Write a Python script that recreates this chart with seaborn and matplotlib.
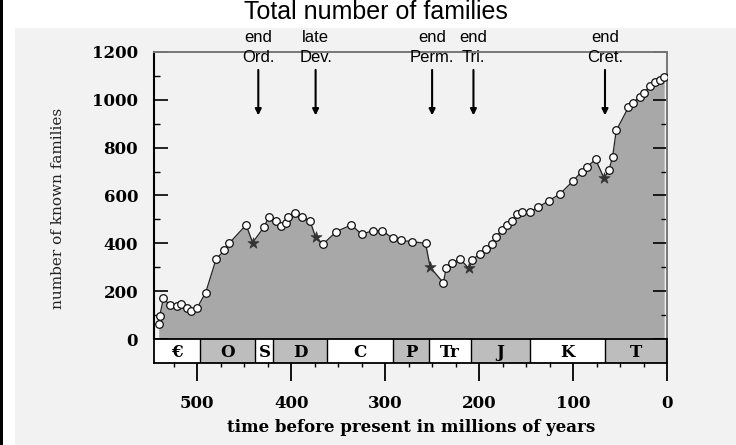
import matplotlib
matplotlib.use("Agg")
import matplotlib.pyplot as plt
import seaborn as sns
import pandas as pd
from matplotlib.patches import Rectangle
from matplotlib.ticker import MultipleLocator

# ---- data ----
ma = [541, 540, 536, 529, 522, 517, 511, 507, 500, 491, 480, 471, 466, 448,
      441, 429, 424, 416, 411, 406, 403, 396, 388, 380, 374, 366, 352, 336,
      325, 313, 303, 292, 283, 271, 257, 252, 238, 235, 229, 220, 211, 208,
      199, 193, 186, 182, 176, 170, 165, 160, 154, 146, 137, 126, 114, 100,
      91, 85, 76, 67, 62, 58, 54, 41, 36, 29, 25, 18, 13, 7, 3]
families = [63, 95, 170, 142, 138, 146, 131, 117, 131, 194, 333, 372, 400, 477,
            403, 468, 509, 493, 474, 486, 511, 525, 510, 494, 426, 397, 449, 477,
            438, 453, 453, 421, 412, 407, 400, 300, 235, 298, 319, 333, 296, 329,
            356, 375, 397, 425, 456, 477, 495, 523, 532, 532, 551, 578, 606, 661,
            699, 720, 751, 672, 705, 759, 872, 969, 988, 1013, 1027, 1058, 1076, 1083, 1095]
extinction_ma = [441, 374, 252, 211, 67]

period_labels = ["€", "O", "S", "D", "C", "P", "Tr", "J", "K", "T"]
period_bounds = [546, 497, 438, 419, 362, 292, 253, 209, 146, 66, 0]
period_shaded = [False, True, False, True, False, True, False, True, False, True]

event_top = ["end", "late", "end", "end", "end"]
event_bottom = ["Ord.", "Dev.", "Perm.", "Tri.", "Cret."]
event_ma = [435, 374, 250, 206, 66]

df = pd.DataFrame({"ma": ma, "families": families})
df["star"] = df["ma"].isin(extinction_ma)

# ---- figure ----
W, H = 736, 445
fig = plt.figure(figsize=(W / 100, H / 100), dpi=100)
fig.patch.set_facecolor("white")

def fx(px):
    return px / W

def fy(py):
    return 1 - py / H

# scanned background and left rule
fig.patches.append(Rectangle((fx(15), 0), 1 - fx(15), fy(28), transform=fig.transFigure,
                             facecolor="#f2f2f2", edgecolor="none", zorder=-10))
fig.patches.append(Rectangle((0, 0), fx(3), 1, transform=fig.transFigure,
                             facecolor="black", edgecolor="none", zorder=-10))

serif = ["DejaVu Serif"]
sans = ["Liberation Sans", "DejaVu Sans"]

L, R, T, B = 154, 667, 52, 339
ax = fig.add_axes([fx(L), fy(B), fx(R) - fx(L), fy(T) - fy(B)])
ax.set_facecolor("#f2f2f2")

ax.fill_between(df["ma"], df["families"], 0, color="#a8a8a8", lw=0, zorder=1)
sns.lineplot(data=df, x="ma", y="families", ax=ax, color="#222222", lw=0.9,
             sort=False, zorder=2, legend=False)
sns.scatterplot(data=df[~df["star"]], x="ma", y="families", ax=ax, marker="o",
                s=30, facecolor="white", edgecolor="#111111", linewidth=0.9,
                zorder=3, legend=False)
sns.scatterplot(data=df[df["star"]], x="ma", y="families", ax=ax, marker="*",
                s=70, color="#333333", edgecolor="#333333", linewidth=0.5,
                zorder=3, legend=False)

ax.set_xlim(546, 0)
ax.set_ylim(0, 1200)
ax.set_xlabel("")
ax.set_ylabel("")
ax.set_xticks([])
ax.yaxis.set_major_locator(MultipleLocator(200))
ax.yaxis.set_minor_locator(MultipleLocator(100))
ax.tick_params(axis="y", which="major", direction="in", length=10, width=1.2,
               left=True, right=True, pad=11.5)
ax.tick_params(axis="y", which="minor", direction="in", length=4, width=1,
               left=True, right=True)
for lab in ax.get_yticklabels():
    lab.set_family(serif)
    lab.set_fontweight("bold")
    lab.set_fontsize(12)
ax.spines["left"].set_color("black")
ax.spines["left"].set_linewidth(1.5)
for s in ["top", "right"]:
    ax.spines[s].set_color("#777777")
    ax.spines[s].set_linewidth(1.4)
ax.spines["bottom"].set_visible(False)

# period band
bax = fig.add_axes([fx(L), fy(363), fx(R) - fx(L), fy(B) - fy(363)])
bax.set_xlim(546, 0)
bax.set_ylim(0, 1)
for i, lab in enumerate(period_labels):
    x0, x1 = period_bounds[i], period_bounds[i + 1]
    bax.axvspan(x1, x0, color="#bdbdbd" if period_shaded[i] else "white", lw=0)
    bax.axvline(x1, color="black", lw=1)
    bax.text((x0 + x1) / 2, 0.45, lab, ha="center", va="center", family=serif,
             fontweight="bold", fontsize=12)
bax.set_yticks([])
bax.xaxis.set_minor_locator(MultipleLocator(25))
bax.set_xticks([500, 400, 300, 200, 100, 0])
bax.set_xticklabels(["500", "400", "300", "200", "100", "0"])
bax.tick_params(axis="x", which="major", direction="out", length=13, width=1.3, pad=10)
bax.tick_params(axis="x", which="minor", direction="out", length=3, width=1)
for lab in bax.get_xticklabels():
    lab.set_family(serif)
    lab.set_fontweight("bold")
    lab.set_fontsize(12)
for s in bax.spines.values():
    s.set_color("black")
    s.set_linewidth(1.3)

# labels
fig.text(fx(411), fy(427), "time before present in millions of years", ha="center",
         va="center", family=serif, fontweight="bold", fontsize=12)
fig.text(fx(58), fy(208), "number of known families", ha="center", va="center",
         rotation=90, family=serif, fontsize=11, color="#222222")
fig.text(fx(376), fy(12), "Total number of families", ha="center", va="center",
         family=sans, fontsize=18)

# events
for top, bot, m in zip(event_top, event_bottom, event_ma):
    ax.annotate("", xy=(m, 935), xytext=(m, 1125),
                arrowprops=dict(arrowstyle="-|>", color="black", lw=1.5,
                                mutation_scale=9, shrinkA=0, shrinkB=0))
    xf = fx(L) + (fx(R) - fx(L)) * (546 - m) / 546
    fig.text(xf, fy(37), top, ha="center", va="center", family=sans, fontsize=12)
    fig.text(xf, fy(57), bot, ha="center", va="center", family=sans, fontsize=12)

fig.savefig("out.png", dpi=100, facecolor=fig.get_facecolor())
